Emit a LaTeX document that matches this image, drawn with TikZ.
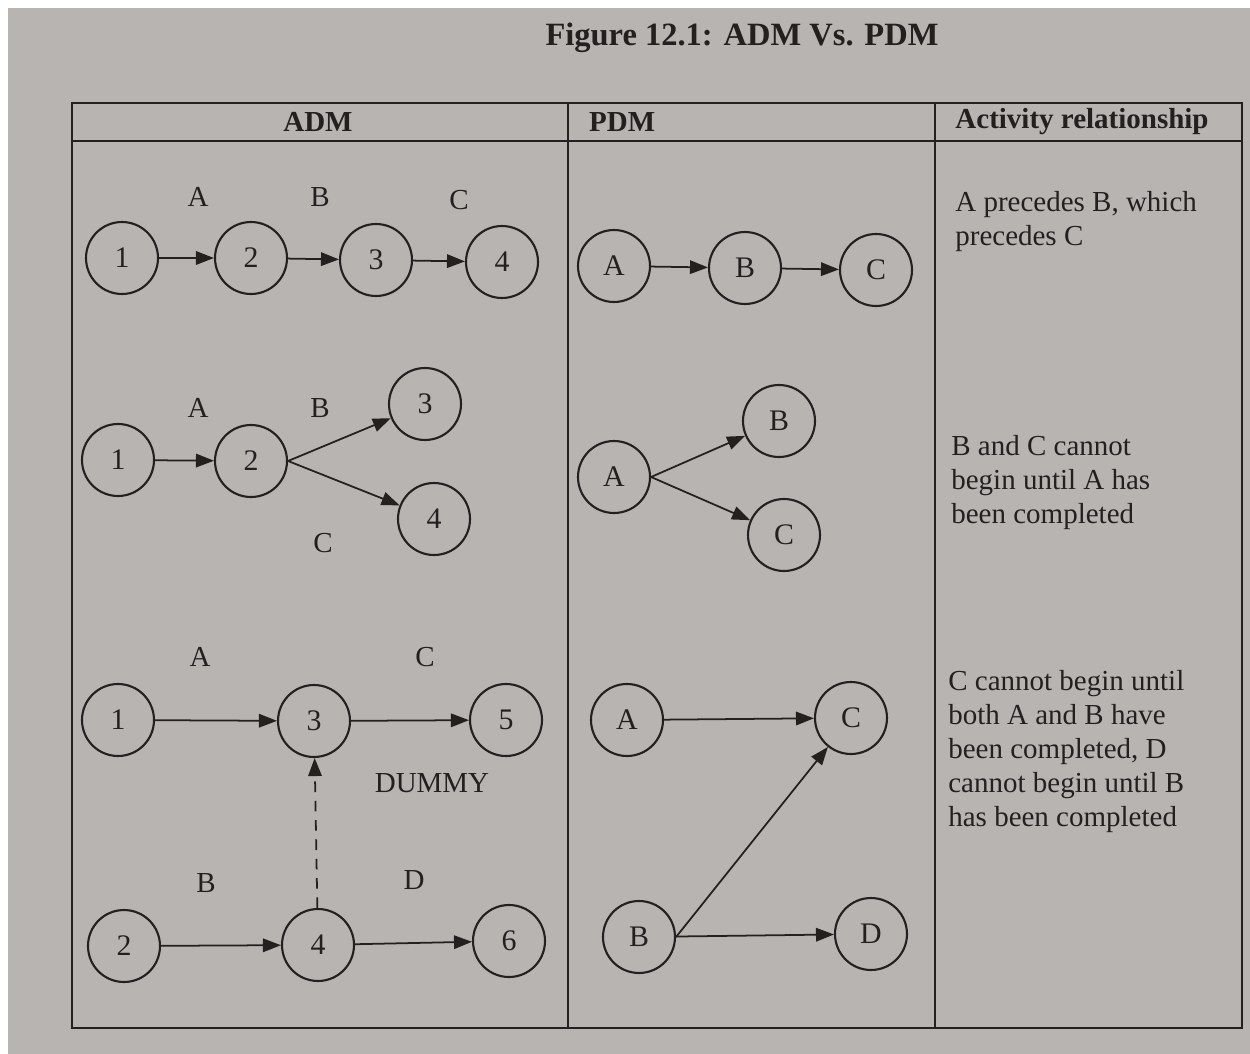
\documentclass[tikz,border=0pt]{standalone}
\usepackage{fontspec}
\setmainfont{Liberation Serif}
\usepackage{xcolor}
\usepackage{tikz}
\usetikzlibrary{arrows.meta}

\definecolor{pagegray}{RGB}{184,180,177}
\definecolor{ink}{RGB}{36,32,32}

\begin{document}
\begin{tikzpicture}[
    x=0.02cm, y=-0.02cm,
    >={Triangle[length=0.36cm, width=0.27cm]},
    event/.style={draw=ink, circle, line width=1.2pt, minimum size=1.44cm,
                  inner sep=0pt, text=ink, font=\fontsize{17}{20}\selectfont},
    actlabel/.style={text=ink, font=\fontsize{16.5}{19.4}\selectfont},
    head/.style={text=ink, font=\fontsize{16.5}{19.4}\selectfont\bfseries},
    desc/.style={text=ink, align=left, anchor=north west, inner sep=0pt,
                 font=\fontsize{16.5}{19.4}\selectfont},
    arrow/.style={->, draw=ink, line width=1pt},
    dummyarrow/.style={arrow, dash pattern=on 6pt off 5pt},
    rule/.style={draw=ink, line width=0.9pt},
]

% page
\fill[white] (0,0) rectangle (1250,1054);
\fill[pagegray] (8,8) rectangle (1250,1054);

% =============================================
% TITLE AND TABLE
% =============================================
\node[text=ink, font=\fontsize{18.5}{22}\selectfont\bfseries] at (742,38) (title)
    {Figure 12.1: ADM Vs. PDM};

\draw[rule] (72,103) rectangle (1242,1028);
\draw[rule, line width=1.6pt] (72,103) -- (1242,103);
\draw[rule, line width=1.6pt] (72,141) -- (1242,141);
\draw[rule] (568,103) -- (568,1028);
\draw[rule] (935,103) -- (935,1028);

\node[head] at (318,122) (h_adm) {ADM};
\node[head, anchor=west] at (583,122) (h_pdm) {PDM};
\node[head] at (1082,122) (h_rel) {Activity relationship};

% =============================================
% ROW 1: A precedes B, which precedes C
% =============================================
\node[event] at (122,258) (a1_1) {1};
\node[event] at (251,258) (a1_2) {2};
\node[event] at (376,260) (a1_3) {3};
\node[event] at (502,262) (a1_4) {4};

\draw[arrow] (a1_1) -- (a1_2);
\draw[arrow] (a1_2) -- (a1_3);
\draw[arrow] (a1_3) -- (a1_4);

\node[actlabel] at (198,197) (a1_A) {A};
\node[actlabel] at (320,197) (a1_B) {B};
\node[actlabel] at (459,200) (a1_C) {C};

\node[event] at (614,266) (p1_A) {A};
\node[event] at (745,268) (p1_B) {B};
\node[event] at (876,270) (p1_C) {C};

\draw[arrow] (p1_A) -- (p1_B);
\draw[arrow] (p1_B) -- (p1_C);

\node[desc] at (955,191) (d1) {A precedes B, which\\precedes C};

% =============================================
% ROW 2: B and C after A
% =============================================
\node[event] at (118,460) (a2_1) {1};
\node[event] at (251,461) (a2_2) {2};
\node[event] at (425,404) (a2_3) {3};
\node[event] at (434,519) (a2_4) {4};

\draw[arrow] (a2_1) -- (a2_2);
\draw[arrow] (a2_2.east) -- (a2_3);
\draw[arrow] (a2_2.east) -- (a2_4);

\node[actlabel] at (198,408) (a2_A) {A};
\node[actlabel] at (320,408) (a2_B) {B};
\node[actlabel] at (323,543) (a2_C) {C};

\node[event] at (614,477) (p2_A) {A};
\node[event] at (779,421) (p2_B) {B};
\node[event] at (784,535) (p2_C) {C};

\draw[arrow] (p2_A.east) -- (p2_B);
\draw[arrow] (p2_A.east) -- (p2_C);

\node[desc] at (951,435) (d2) {B and C cannot\\begin until A has\\been completed};

% =============================================
% ROW 3: dummy activity
% =============================================
\node[event] at (118,720) (a3_1) {1};
\node[event] at (314,721) (a3_3) {3};
\node[event] at (506,720) (a3_5) {5};
\node[event] at (124,946) (a3_2) {2};
\node[event] at (318,945) (a3_4) {4};
\node[event] at (509,941) (a3_6) {6};

\draw[arrow] (a3_1) -- (a3_3);
\draw[arrow] (a3_3) -- (a3_5);
\draw[arrow] (a3_2) -- (a3_4);
\draw[arrow] (a3_4) -- (a3_6);
\draw[dummyarrow] (a3_4) -- (a3_3);

\node[actlabel] at (200,657) (a3_A) {A};
\node[actlabel] at (425,657) (a3_C) {C};
\node[actlabel] at (432,783) (a3_dummy) {DUMMY};
\node[actlabel] at (206,883) (a3_B) {B};
\node[actlabel] at (414,880) (a3_D) {D};

\node[event] at (627,720) (p3_A) {A};
\node[event] at (851,718) (p3_C) {C};
\node[event] at (639,937) (p3_B) {B};
\node[event] at (871,934) (p3_D) {D};

\draw[arrow] (p3_A) -- (p3_C);
\draw[arrow] (p3_B.east) -- (p3_C);
\draw[arrow] (p3_B) -- (p3_D);

\node[desc] at (948,670) (d3)
    {C cannot begin until\\both A and B have\\been completed, D\\cannot begin until B\\has been completed};

\end{tikzpicture}
\end{document}
